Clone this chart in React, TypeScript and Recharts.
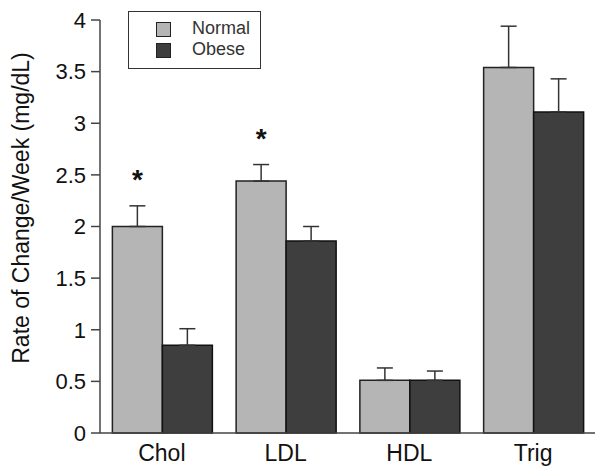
import React from 'react';
import { BarChart, Bar, XAxis, YAxis, ErrorBar, Legend, LabelList } from 'recharts';

const categories = ['Chol', 'LDL', 'HDL', 'Trig'];
const normalValues = [2.0, 2.44, 0.51, 3.54];
const normalErrors = [0.2, 0.16, 0.12, 0.4];
const obeseValues = [0.85, 1.86, 0.51, 3.11];
const obeseErrors = [0.16, 0.14, 0.09, 0.32];
const significance = ['*', '*', '', ''];
const yTicks = [0, 0.5, 1, 1.5, 2, 2.5, 3, 3.5, 4];

const data = categories.map((c, i) => ({
  name: c,
  normal: normalValues[i],
  obese: obeseValues[i],
  normalErr: [0, normalErrors[i]],
  obeseErr: [0, obeseErrors[i]],
  sig: significance[i],
}));

const FONT = '"Liberation Sans", Arial, Helvetica, sans-serif';
const NORMAL_FILL = '#b5b5b5';
const OBESE_FILL = '#3e3e3e';

const SigLabel = (props: any) => {
  const { x, y, width, height, value, index } = props;
  if (!value) return null;
  const v = normalValues[index];
  const pxPerUnit = height / v;
  const errTop = y - normalErrors[index] * pxPerUnit;
  return (
    <text
      x={x + width / 2}
      y={errTop - 17}
      textAnchor="middle"
      fontFamily={FONT}
      fontSize={28}
      fontWeight="bold"
      fill="#111"
    >
      {value}
    </text>
  );
};

const LegendBox = () => (
  <div
    style={{
      width: 131,
      height: 56,
      border: '1.5px solid #333',
      background: '#fff',
      fontFamily: FONT,
      fontSize: 18,
      color: '#333',
      position: 'relative',
    }}
  >
    {[
      { label: 'Normal', fill: NORMAL_FILL, top: 10 },
      { label: 'Obese', fill: OBESE_FILL, top: 31 },
    ].map((it) => (
      <div key={it.label}>
        <div
          style={{
            position: 'absolute',
            left: 27,
            top: it.top,
            width: 13,
            height: 13,
            background: it.fill,
            border: '1.5px solid #222',
          }}
        />
        <div
          style={{
            position: 'absolute',
            left: 63,
            top: it.top - 4,
            lineHeight: '20px',
          }}
        >
          {it.label}
        </div>
      </div>
    ))}
  </div>
);

const YLabel = () => (
  <text
    x={0}
    y={0}
    transform="translate(29, 208) rotate(-90)"
    textAnchor="middle"
    fontFamily={FONT}
    fontSize={23}
    fill="#111"
  >
    Rate of Change/Week (mg/dL)
  </text>
);

export default function App() {
  return (
    <div style={{ position: 'absolute', left: 0, top: 0, background: '#fff' }}>
      <BarChart
        width={602}
        height={474}
        data={data}
        margin={{ top: 20, right: 7, bottom: 11, left: 40 }}
        barCategoryGap="10%"
        barGap={0}
      >
        <XAxis
          dataKey="name"
          tickLine={false}
          tickSize={0}
          tickMargin={12}
          axisLine={{ stroke: '#444', strokeWidth: 1.5 }}
          tick={{ fontFamily: FONT, fontSize: 23, fill: '#111' }}
          height={30}
        />
        <YAxis
          domain={[0, 4]}
          ticks={yTicks}
          width={60}
          tickSize={9}
          tickMargin={5}
          axisLine={{ stroke: '#444', strokeWidth: 1.5 }}
          tickLine={{ stroke: '#444', strokeWidth: 1.5 }}
          tick={{ fontFamily: FONT, fontSize: 22, fill: '#111' }}
          label={<YLabel />}
        />
        <Legend
          layout="vertical"
          align="center"
          verticalAlign="middle"
          content={<LegendBox />}
          wrapperStyle={{ position: 'absolute', left: 128, top: 11, width: 133, height: 58 }}
        />
        <Bar
          dataKey="normal"
          name="Normal"
          fill={NORMAL_FILL}
          stroke="#222"
          strokeWidth={1.5}
          isAnimationActive={false}
        >
          <ErrorBar dataKey="normalErr" width={8} stroke="#333" strokeWidth={1.5} direction="y" />
          <LabelList dataKey="sig" content={<SigLabel />} />
        </Bar>
        <Bar
          dataKey="obese"
          name="Obese"
          fill={OBESE_FILL}
          stroke="#111"
          strokeWidth={1.5}
          isAnimationActive={false}
        >
          <ErrorBar dataKey="obeseErr" width={8} stroke="#333" strokeWidth={1.5} direction="y" />
        </Bar>
      </BarChart>
    </div>
  );
}
